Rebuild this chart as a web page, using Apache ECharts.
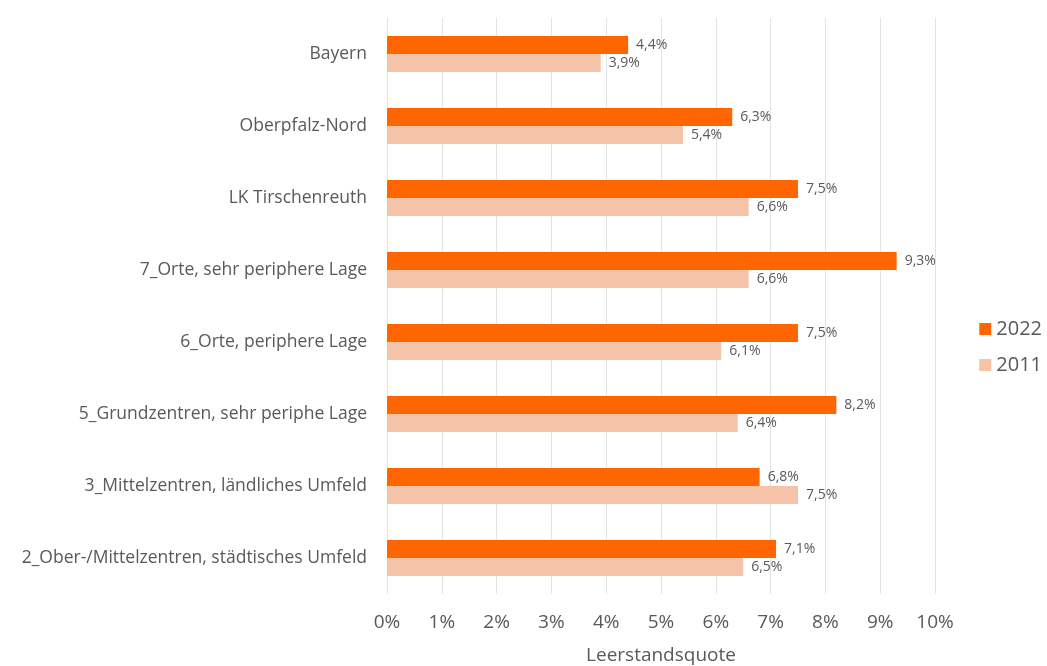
<!DOCTYPE html>
<html>
<head>
<meta charset="utf-8">
<script src="https://cdn.jsdelivr.net/npm/echarts@6/dist/echarts.min.js"></script>
<style>
    html, body { margin: 0; padding: 0; background: #fff; }
    #main { width: 1047px; height: 666px; }
</style>
</head>
<body>
<div id="main"></div>
<script>
// Regions (top to bottom)
var categories = [
    'Bayern',
    'Oberpfalz-Nord',
    'LK Tirschenreuth',
    '7_Orte, sehr periphere Lage',
    '6_Orte, periphere Lage',
    '5_Grundzentren, sehr periphe Lage',
    '3_Mittelzentren, ländliches Umfeld',
    '2_Ober-/Mittelzentren, städtisches Umfeld'
];
// Vacancy rate in percent
var values2022 = [4.4, 6.3, 7.5, 9.3, 7.5, 8.2, 6.8, 7.1];
var values2011 = [3.9, 5.4, 6.6, 6.6, 6.1, 6.4, 7.5, 6.5];
var seriesNames = ['2022', '2011'];

var textColor = '#595959';
var fontName = '"Open Sans", "Noto Sans", sans-serif';

function pct(v) {
    return String(v).replace('.', ',') + '%';
}

var chart = echarts.init(document.getElementById('main'));

var option = {
    animation: false,
    textStyle: { fontFamily: fontName },
    color: ['#ff6600', '#f5c4a8'],
    legend: {
        orient: 'vertical',
        right: 0,
        top: 314,
        itemWidth: 12,
        itemHeight: 12,
        itemGap: 16,
        icon: 'rect',
        textStyle: { fontSize: 20, color: textColor, fontFamily: fontName },
        data: seriesNames
    },
    grid: {
        left: 387,
        top: 18,
        width: 548,
        height: 576,
        outerBoundsMode: 'none'
    },
    xAxis: {
        type: 'value',
        min: 0,
        max: 10,
        interval: 1,
        name: 'Leerstandsquote',
        nameLocation: 'middle',
        nameGap: 52,
        nameTextStyle: { fontSize: 19, color: textColor },
        axisLine: { show: false },
        axisTick: { show: false },
        axisLabel: {
            fontSize: 19,
            color: textColor,
            margin: 19,
            formatter: function (v) { return v + '%'; }
        },
        splitLine: { lineStyle: { color: '#e3e3e3', width: 1 } }
    },
    yAxis: {
        type: 'category',
        inverse: true,
        data: categories,
        axisLine: { show: false },
        axisTick: { show: false },
        axisLabel: { fontSize: 17.5, color: textColor, margin: 20 }
    },
    series: [
        {
            name: seriesNames[0],
            type: 'bar',
            data: values2022,
            barWidth: 18,
            barGap: '0%',
            label: {
                show: true,
                position: 'right',
                distance: 8,
                fontSize: 14,
                color: textColor,
                formatter: function (p) { return pct(p.value); }
            }
        },
        {
            name: seriesNames[1],
            type: 'bar',
            data: values2011,
            barWidth: 18,
            barGap: '0%',
            label: {
                show: true,
                position: 'right',
                distance: 8,
                fontSize: 14,
                color: textColor,
                formatter: function (p) { return pct(p.value); }
            }
        }
    ]
};

chart.setOption(option);
</script>
</body>
</html>
